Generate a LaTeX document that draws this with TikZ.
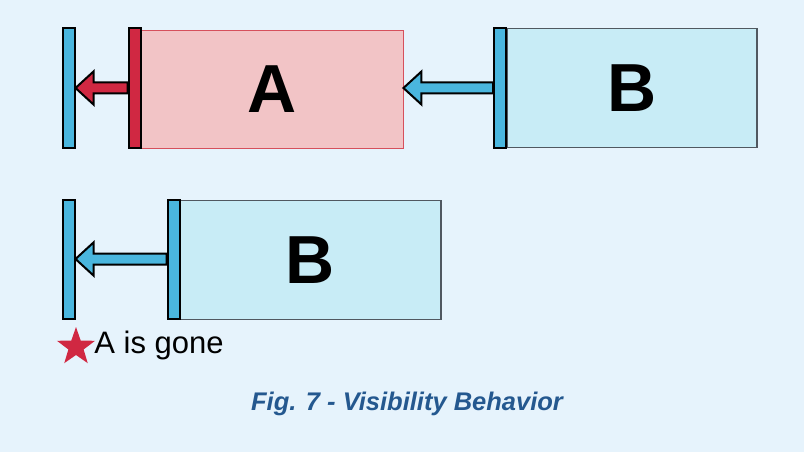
\documentclass[tikz,border=0pt]{standalone}
\usepackage{fontspec}
\setmainfont{Liberation Sans}
\usetikzlibrary{calc,positioning,shapes.geometric}

\definecolor{bgblue}{RGB}{230,243,252}
\definecolor{barblue}{RGB}{74,182,222}
\definecolor{barred}{RGB}{208,40,66}
\definecolor{boxpink}{RGB}{242,196,198}
\definecolor{boxpinkline}{RGB}{214,80,92}
\definecolor{boxcyan}{RGB}{200,236,246}
\definecolor{boxline}{RGB}{80,88,96}
\definecolor{captionblue}{RGB}{36,88,143}

\tikzset{
  bar/.style={draw=black, line width=2pt, minimum width=12pt, minimum height=119pt, inner sep=0pt},
  bluebar/.style={bar, fill=barblue},
  redbar/.style={bar, fill=barred},
  boxA/.style={draw=boxpinkline, line width=0.9pt, fill=boxpink, minimum width=262pt, minimum height=118pt, inner sep=0pt,
    font=\fontsize{68}{68}\selectfont\bfseries},
  boxB/.style={draw=boxline, line width=1.4pt, fill=boxcyan, minimum width=250pt, minimum height=119pt, inner sep=0pt,
    font=\fontsize{68}{68}\selectfont\bfseries},
  blockarrow/.style={draw=black, line width=2pt, line join=miter, fill=#1}
}

% #1 colour, #2 from, #3 to (tip)
\newcommand\pusharrow[3]{%
  \draw[blockarrow=#1] let \p1=(#2), \p2=(#3) in
    (\x1,\y1+5.5pt) -- (\x2+18pt,\y1+5.5pt) -- (\x2+18pt,\y1+16.5pt) -- (\x2,\y1)
    -- (\x2+18pt,\y1-16.5pt) -- (\x2+18pt,\y1-5.5pt) -- (\x1,\y1-5.5pt) -- cycle;}

\begin{document}
\begin{tikzpicture}[x=1pt, y=-1pt]
  \fill[bgblue] (0,0) rectangle (804,452);
  \useasboundingbox (0,0) rectangle (804,452);

  % top row
  \node[boxA] (boxA) at (272,89) {A};
  \node[redbar] (barA) at (134.5,88) {};
  \node[bluebar] (wallTop) at (68.5,88) {};
  \node[boxB] (boxBtop) at (632,88) {B};
  \node[bluebar] (barBtop) at (500,88) {};
  \pusharrow{barred}{barA.west}{wallTop.east}
  \pusharrow{barblue}{barBtop.west}{boxA.east}

  % bottom row
  \node[boxB, minimum width=261pt] (boxBbot) at (310.5,260) {B};
  \node[bluebar] (barBbot) at (173.5,259) {};
  \node[bluebar] (wallBot) at (68.5,259) {};
  \pusharrow{barblue}{barBbot.west}{wallBot.east}

  \node[star, star points=5, star point ratio=2.5, fill=barred, minimum size=40pt, inner sep=0pt] (star) at (76,347) {};
  \node[right=7pt of star, font=\fontsize{31}{31}\selectfont, inner sep=0pt, yshift=1.5pt] (gone) {A is gone};

  \node[font=\fontsize{25.5}{25.5}\selectfont\bfseries\itshape, text=captionblue] (caption) at (407,404) {Fig. 7 - Visibility Behavior};
\end{tikzpicture}
\end{document}
